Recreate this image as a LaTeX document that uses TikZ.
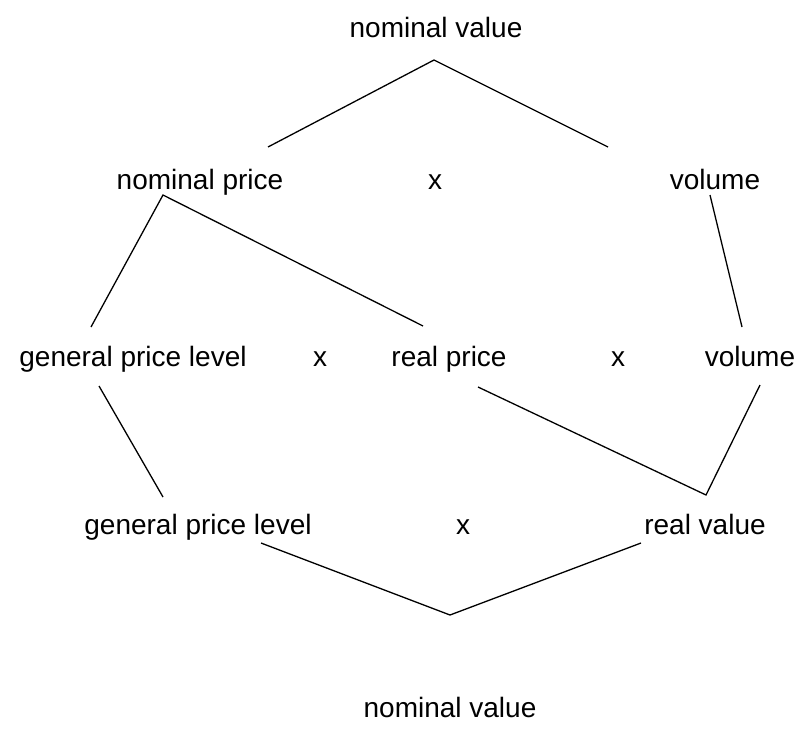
\documentclass[tikz,border=0pt]{standalone}
\usepackage{fontspec}
\setmainfont{Liberation Sans}
\begin{document}
\begin{tikzpicture}[x=1pt,y=-1pt,
  lbl/.style={font=\fontsize{28}{32}\selectfont, inner sep=0pt, anchor=base},
  conn/.style={draw=black, line width=1.3pt}]
\useasboundingbox (0,0) rectangle (810,744);
\node[lbl] (nv1) at (436,37) {nominal value};
\node[lbl] (np) at (200,189) {nominal price};
\node[lbl] (x1) at (435,189) {x};
\node[lbl] (vol1) at (715,189) {volume};
\node[lbl] (gpl1) at (133,366) {general price level};
\node[lbl] (x2) at (320,366) {x};
\node[lbl] (rp) at (449,366) {real price};
\node[lbl] (x3) at (618,366) {x};
\node[lbl] (vol2) at (750,366) {volume};
\node[lbl] (gpl2) at (198,534) {general price level};
\node[lbl] (x4) at (463,534) {x};
\node[lbl] (rv) at (705,534) {real value};
\node[lbl] (nv2) at (450,717) {nominal value};
\coordinate (nv1b) at (434,60);
\coordinate (npt) at (268,147);
\coordinate (vol1t) at (608,147);
\coordinate (npb) at (163,195);
\coordinate (gpl1t) at (91,327);
\coordinate (rpt) at (423,326);
\coordinate (vol1b) at (710,195);
\coordinate (vol2t) at (742,327);
\coordinate (gpl1b) at (99,386);
\coordinate (gpl2t) at (163,497);
\coordinate (rpb) at (478,387);
\coordinate (vol2b) at (760,385);
\coordinate (rvt) at (706,495);
\coordinate (gpl2b) at (261,543);
\coordinate (rvb) at (641,543);
\coordinate (nv2t) at (450,615);
\draw[conn] (npt) -- (nv1b) -- (vol1t);
\draw[conn] (gpl1t) -- (npb) -- (rpt);
\draw[conn] (vol1b) -- (vol2t);
\draw[conn] (gpl1b) -- (gpl2t);
\draw[conn] (rpb) -- (rvt) -- (vol2b);
\draw[conn] (gpl2b) -- (nv2t) -- (rvb);
\end{tikzpicture}
\end{document}
